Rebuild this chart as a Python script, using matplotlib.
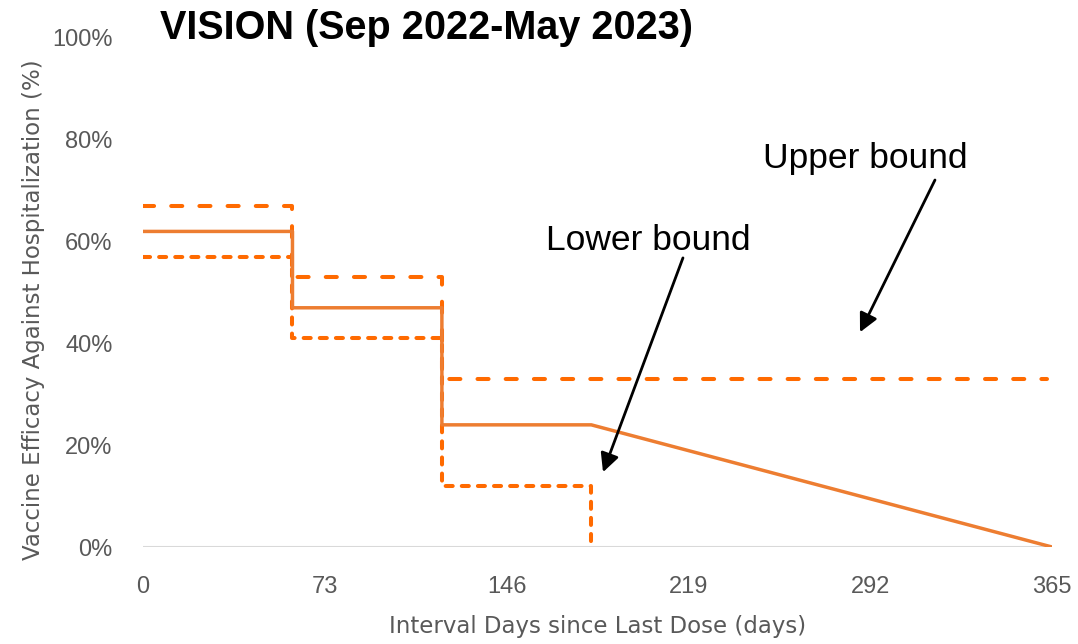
import matplotlib.pyplot as plt

# step data (days, % efficacy)
days_est = [0, 60, 60, 120, 120, 180, 365]
ve_est = [62, 62, 47, 47, 24, 24, 0]

days_upper = [0, 60, 60, 120, 120, 363]
ve_upper = [67, 67, 53, 53, 33, 33]

days_lower = [0, 60, 60, 120, 120, 180, 180]
ve_lower = [57, 57, 41, 41, 12, 12, 0]

x_ticks = [0, 73, 146, 219, 292, 365]
y_ticks = [0, 20, 40, 60, 80, 100]

gray = "#595959"
arial = ["Liberation Sans", "DejaVu Sans"]

fig = plt.figure(figsize=(10.78, 6.44), dpi=100)
ax = fig.add_axes([0.1327, 0.1506, 0.8432, 0.7904])

ax.plot(days_upper, ve_upper, color="#FF6A00", lw=2.9, dashes=(2.75, 4.25), dash_capstyle="round")
ax.plot(days_lower, ve_lower, color="#FF6A00", lw=2.9, dashes=(1.75, 2.25), dash_capstyle="round")
ax.plot(days_est, ve_est, color="#ED7D31", lw=2.5, solid_capstyle="round")

ax.axhline(0, color="#D9D9D9", lw=1.5, zorder=0)

ax.set_xlim(0, 365)
ax.set_ylim(0, 100)
ax.set_xticks(x_ticks)
ax.set_yticks(y_ticks)
ax.set_xticklabels([str(t) for t in x_ticks], family=arial, fontsize=17, color=gray)
ax.set_yticklabels([f"{t}%" for t in y_ticks], family=arial, fontsize=17, color=gray)
ax.tick_params(length=0)
ax.tick_params(axis="x", pad=21)
ax.tick_params(axis="y", pad=22)
for s in ax.spines.values():
    s.set_visible(False)
ax.set_xlabel("Interval Days since Last Dose (days)", fontsize=16.5, color=gray)
ax.set_ylabel("Vaccine Efficacy Against Hospitalization (%)", fontsize=16.5, color=gray)
ax.xaxis.set_label_coords(0.5, -0.133)
ax.yaxis.set_label_coords(-0.108, 0.466)

fig.text(0.148, 0.957, "VISION (Sep 2022-May 2023)", family=arial, fontsize=28.5, fontweight="bold",
         ha="left", va="center")

arrow = dict(arrowstyle="-|>", color="black", lw=2, mutation_scale=28, shrinkA=0, shrinkB=0)
ax.annotate("", xy=(287.9, 42.2), xytext=(318.0, 72.1), arrowprops=arrow)
ax.annotate("", xy=(184.7, 14.7), xytext=(216.8, 56.8), arrowprops=arrow)
ax.text(289.9, 76.4, "Upper bound", family=arial, fontsize=25.5, ha="center", va="center")
ax.text(202.8, 60.3, "Lower bound", family=arial, fontsize=25.5, ha="center", va="center")

fig.savefig("out.png", dpi=100)
